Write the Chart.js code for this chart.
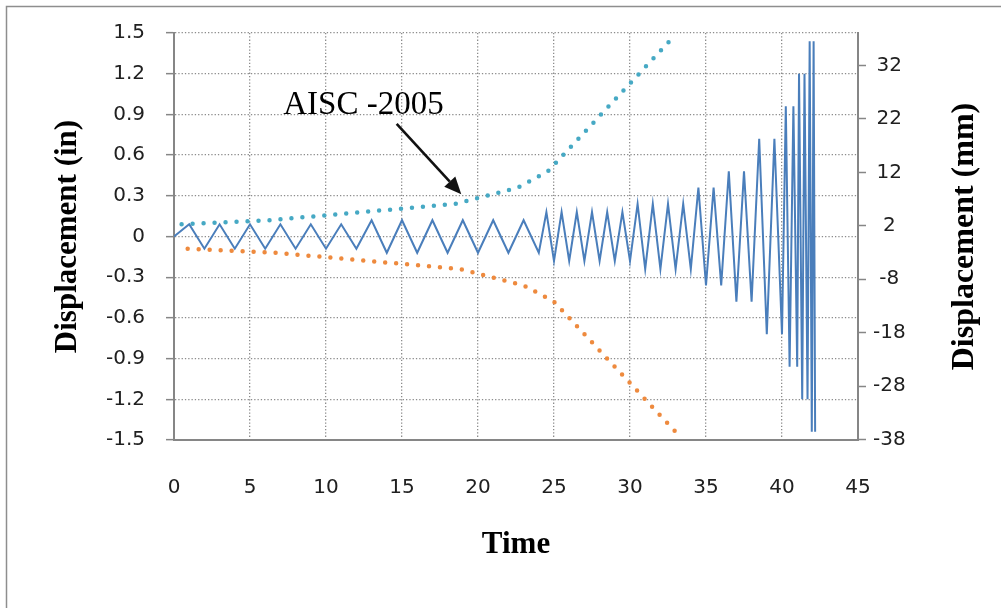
<!DOCTYPE html>
<html>
<head>
<meta charset="utf-8">
<script src="https://cdn.jsdelivr.net/npm/chart.js@4.4.1/dist/chart.umd.min.js"></script>
<style>
  html, body { margin: 0; padding: 0; background: #fff; }
  canvas { display: block; }
</style>
</head>
<body>
<canvas id="chart" width="1001" height="608"></canvas>
<script>
// Cyclic loading history: time vs. displacement (in)
const zigTime = [0,
  1, 2, 3, 4, 5, 6, 7, 8, 9, 10, 11, 12,
  13, 14, 15, 16, 17, 18, 19, 20, 21, 22, 23, 24,
  24.5, 25, 25.5, 26, 26.5, 27, 27.5, 28, 28.5, 29, 29.5, 30,
  30.5, 31, 31.5, 32, 32.5, 33, 33.5, 34,
  34.5, 35, 35.5, 36,
  36.5, 37, 37.5, 38,
  38.5, 39, 39.5, 40,
  40.25, 40.5, 40.75, 41,
  41.12, 41.33, 41.48, 41.68,
  41.82, 41.96, 42.08, 42.18];
const zigDisp = [0,
  0.09, -0.09, 0.09, -0.09, 0.09, -0.09, 0.09, -0.09, 0.09, -0.09, 0.09, -0.09,
  0.12, -0.12, 0.12, -0.12, 0.12, -0.12, 0.12, -0.12, 0.12, -0.12, 0.12, -0.12,
  0.18, -0.18, 0.18, -0.18, 0.18, -0.18, 0.18, -0.18, 0.18, -0.18, 0.18, -0.18,
  0.24, -0.24, 0.24, -0.24, 0.24, -0.24, 0.24, -0.24,
  0.36, -0.36, 0.36, -0.36,
  0.48, -0.48, 0.48, -0.48,
  0.72, -0.72, 0.72, -0.72,
  0.96, -0.96, 0.96, -0.96,
  1.2, -1.2, 1.2, -1.2,
  1.44, -1.44, 1.44, -1.44];

// AISC-2005 protocol envelope (positive and negative branches)
const aiscUpperTime = [0.5, 6.3, 12.4, 18.5, 22.6, 24.6, 26.6, 28.6, 30.6, 32.6];
const aiscUpperDisp = [0.09, 0.12, 0.18, 0.24, 0.36, 0.48, 0.72, 0.96, 1.2, 1.44];
const aiscLowerTime = [0.9, 6.7, 12.8, 18.85, 23.0, 25.0, 27.0, 29.0, 31.0, 33.0];
const aiscLowerDisp = [-0.09, -0.12, -0.18, -0.24, -0.36, -0.48, -0.72, -0.96, -1.2, -1.44];

// Axis ticks
const timeTicks = [0, 5, 10, 15, 20, 25, 30, 35, 40, 45];
const inchTicks = [-1.5, -1.2, -0.9, -0.6, -0.3, 0, 0.3, 0.6, 0.9, 1.2, 1.5];
const inchLabels = ['-1.5', '-1.2', '-0.9', '-0.6', '-0.3', '0', '0.3', '0.6', '0.9', '1.2', '1.5'];
const mmTicks = [-38, -28, -18, -8, 2, 12, 22, 32];
const mmLabels = ['-38', '-28', '-18', '-8', '2', '12', '22', '32'];

const toPoints = (xs, ys) => xs.map((x, i) => ({ x: x, y: ys[i] }));

const tickFont = { family: '"DejaVu Sans", sans-serif', size: 20 };
const tickColor = '#202020';
const axisGray = '#868686';
const gridGray = '#8c8c8c';

// Frame, axis titles and the AISC label with its arrow
const decorations = {
  id: 'decorations',
  beforeDraw(chart) {
    const ctx = chart.ctx;
    ctx.save();
    ctx.fillStyle = '#fff';
    ctx.fillRect(0, 0, chart.width, chart.height);
    ctx.strokeStyle = '#8e8e8e';
    ctx.lineWidth = 1.5;
    ctx.beginPath();
    ctx.moveTo(6.5, chart.height + 5);
    ctx.lineTo(6.5, 6.5);
    ctx.lineTo(chart.width + 5, 6.5);
    ctx.stroke();
    ctx.restore();
  },
  afterDraw(chart) {
    const { ctx, chartArea, scales } = chart;
    const midY = (chartArea.top + chartArea.bottom) / 2;
    const midX = (chartArea.left + chartArea.right) / 2;
    ctx.save();
    ctx.fillStyle = '#000';
    ctx.textBaseline = 'alphabetic';
    ctx.textAlign = 'center';
    ctx.font = 'bold 31px "Liberation Serif", "Times New Roman", serif';
    ctx.fillText('Time', midX, chartArea.bottom + 113);

    ctx.save();
    ctx.translate(chartArea.left - 98, midY);
    ctx.rotate(-Math.PI / 2);
    ctx.fillText('Displacement (in)', 0, 0);
    ctx.restore();

    ctx.save();
    ctx.translate(chartArea.right + 114.5, midY);
    ctx.rotate(-Math.PI / 2);
    ctx.font = 'bold 32px "Liberation Serif", "Times New Roman", serif';
    ctx.fillText('Displacement (mm)', 0, 0);
    ctx.restore();

    // AISC -2005 label
    const xs = scales.x, ys = scales.y;
    ctx.textAlign = 'left';
    ctx.font = '33px "Liberation Serif", "Times New Roman", serif';
    ctx.fillText('AISC -2005', xs.getPixelForValue(7.19), ys.getPixelForValue(0.9));

    // arrow pointing at the envelope
    const x1 = xs.getPixelForValue(14.65), y1 = ys.getPixelForValue(0.83);
    const x2 = xs.getPixelForValue(18.9), y2 = ys.getPixelForValue(0.312);
    const ang = Math.atan2(y2 - y1, x2 - x1);
    const headLen = 17, headHalf = 7.5;
    const bx = x2 - headLen * Math.cos(ang), by = y2 - headLen * Math.sin(ang);
    ctx.strokeStyle = '#111';
    ctx.fillStyle = '#111';
    ctx.lineWidth = 2.6;
    ctx.beginPath();
    ctx.moveTo(x1, y1);
    ctx.lineTo(bx, by);
    ctx.stroke();
    ctx.beginPath();
    ctx.moveTo(x2, y2);
    ctx.lineTo(bx + headHalf * Math.sin(ang), by - headHalf * Math.cos(ang));
    ctx.lineTo(bx - headHalf * Math.sin(ang), by + headHalf * Math.cos(ang));
    ctx.closePath();
    ctx.fill();
    ctx.restore();
  }
};

new Chart(document.getElementById('chart'), {
  type: 'line',
  data: {
    datasets: [
      {
        label: 'Loading history',
        data: toPoints(zigTime, zigDisp),
        borderColor: '#4a7ebb',
        borderWidth: 2,
        pointRadius: 0,
        tension: 0,
        yAxisID: 'y'
      },
      {
        label: 'AISC-2005 (+)',
        data: toPoints(aiscUpperTime, aiscUpperDisp),
        borderColor: '#46a9c4',
        borderWidth: 4.5,
        borderDash: [0, 11],
        borderCapStyle: 'round',
        pointRadius: 0,
        tension: 0,
        yAxisID: 'y'
      },
      {
        label: 'AISC-2005 (-)',
        data: toPoints(aiscLowerTime, aiscLowerDisp),
        borderColor: '#ee8a3e',
        borderWidth: 4.5,
        borderDash: [0, 11],
        borderCapStyle: 'round',
        pointRadius: 0,
        tension: 0,
        yAxisID: 'y'
      }
    ]
  },
  options: {
    responsive: false,
    animation: false,
    devicePixelRatio: 1,
    layout: { padding: { top: 23, left: 0, right: 0, bottom: 0 } },
    plugins: { legend: { display: false }, tooltip: { enabled: false } },
    scales: {
      x: {
        type: 'linear',
        position: 'bottom',
        min: 0,
        max: 45,
        afterBuildTicks: s => { s.ticks = timeTicks.map(v => ({ value: v })); },
        afterFit: s => { s.height = 168; },
        grid: { color: gridGray, lineWidth: 1.3, drawTicks: false },
        border: { display: true, color: axisGray, width: 2, dash: [1.3, 2] },
        ticks: { padding: 36, color: tickColor, font: tickFont, maxRotation: 0, autoSkip: false,
                 callback: (v, i) => String(timeTicks[i]) }
      },
      y: {
        type: 'linear',
        position: 'left',
        min: -1.5,
        max: 1.5,
        afterBuildTicks: s => { s.ticks = inchTicks.map(v => ({ value: v })); },
        afterFit: s => { s.width = 174; },
        grid: { color: gridGray, lineWidth: 1.3, drawTicks: true, tickLength: 8,
                tickColor: axisGray, tickWidth: 1.5 },
        border: { display: true, color: axisGray, width: 2, dash: [1.3, 2] },
        ticks: { padding: 21, color: tickColor, font: tickFont, autoSkip: false,
                 callback: (v, i) => inchLabels[i] }
      },
      y2: {
        type: 'linear',
        position: 'right',
        min: -38.1,
        max: 38.1,
        afterBuildTicks: s => { s.ticks = mmTicks.map(v => ({ value: v })); },
        afterFit: s => { s.width = 143; },
        grid: { drawOnChartArea: false, drawTicks: true, tickLength: 8,
                color: axisGray, tickColor: axisGray, tickWidth: 1.5 },
        border: { display: true, color: axisGray, width: 2 },
        ticks: { padding: 7, crossAlign: 'center', color: tickColor, font: tickFont, autoSkip: false,
                 callback: (v, i) => mmLabels[i] }
      }
    }
  },
  plugins: [decorations]
});
</script>
</body>
</html>
